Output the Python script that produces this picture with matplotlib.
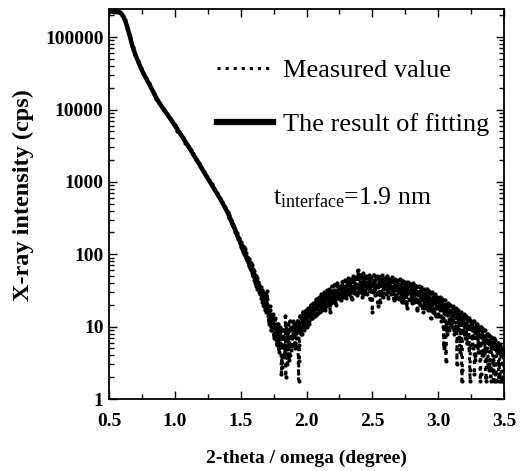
import numpy as np
import matplotlib
matplotlib.use("Agg")
import matplotlib.pyplot as plt
from matplotlib.ticker import MultipleLocator, LogLocator, NullFormatter, FixedLocator, FixedFormatter
from matplotlib.lines import Line2D

plt.rcParams['font.family'] = ['Liberation Serif', 'DejaVu Serif']
plt.rcParams['mathtext.fontset'] = 'custom'
plt.rcParams['mathtext.rm'] = 'Liberation Serif'
plt.rcParams['mathtext.it'] = 'Liberation Serif:italic'

# ---------------- data ----------------
# measured, smooth part (0.50-1.40, step 0.02)
meas_x1 = np.round(np.arange(0.50, 1.401, 0.02), 4)
meas_y1 = [230000, 228000, 226000, 225000, 222000, 205000, 174000, 135000, 100000, 73000,
           57500, 46800, 38000, 32400, 27500, 23400, 20000, 16600, 14100, 12300,
           11000, 9800, 8700, 7760, 6840, 6030, 5100, 4600, 4000, 3500,
           3100, 2750, 2400, 2100, 1830, 1600, 1390, 1220, 1060, 930,
           810, 700, 600, 520, 450, 385]
# measured, noisy part on the 0.01 grid (1.41-3.50)
meas_x2 = np.round(np.arange(1.41, 3.501, 0.01), 4)
meas_y2 = [350, 305, 288, 250, 238, 205, 196, 165, 160, 136,
           135, 108, 118, 90, 92, 70, 78, 60, 62, 48,
           52, 36, 42, 30, 34, 24, 30, 19, 26, 31,
           14, 17, 9, 12.5, 8, 11, 6.5, 9.5, 4.5, 8.5,
           2.2, 9, 5, 14, 4, 8.5, 3.5, 10, 5.5, 12,
           6, 11, 9, 1.8, 14, 8, 13, 9.5, 16, 11,
           16, 11, 17, 13, 19, 14, 21, 15, 23, 17,
           24, 18, 26, 19, 28, 20, 30, 16, 29, 23,
           32, 24, 36, 25, 33, 27, 38, 26, 34, 28,
           40, 29, 37, 26, 42, 31, 45, 30, 60, 33,
           48, 32, 44, 28, 50, 34, 41, 45, 31, 16,
           44, 35, 48, 30, 42, 22, 46, 33, 40, 29,
           45, 31, 40, 28, 43, 30, 38, 25, 41, 30,
           38, 26, 40, 22, 35, 29, 37, 24, 34, 26,
           36, 22, 31, 17, 30, 24, 33, 20, 28, 22,
           29, 18, 27, 20, 25, 16, 24, 18, 22, 15,
           23, 14, 21, 10, 17, 3.4, 18, 12, 17, 11,
           16, 9, 15, 10, 14, 7, 13, 1.8, 12, 8.5,
           13, 6, 12, 2.5, 11, 7, 10, 4, 9.5, 6,
           9, 1.8, 8.5, 4.5, 7, 2, 7.5, 3, 6.5, 1.8,
           6, 2.5, 5.5, 1.8, 5, 2.2, 4.5, 1.8, 4, 2.5]
# measured, noisy part on the half-steps (1.405-3.495)
meas_x3 = np.round(np.arange(1.405, 3.4951, 0.01), 4)
meas_y3 = [370, 320, 300, 262, 250, 215, 205, 176, 170, 145,
           125, 128, 100, 108, 84, 88, 68, 75, 55, 60,
           44, 50, 33, 40, 28, 35, 22, 28, 17, 22,
           19, 12, 15, 10, 13, 7.5, 10.5, 5.5, 9, 6,
           5.5, 2.8, 7.5, 4.2, 9.5, 3, 6, 12, 4.8, 8,
           10, 5, 12, 7, 3.3, 13, 9, 15, 10, 14,
           15, 12, 18, 13, 17, 20, 15, 22, 17, 21,
           22, 17, 25, 21, 26, 19, 27, 22, 31, 24,
           28, 22, 31, 27, 35, 24, 30, 33, 27, 36,
           33, 38, 28, 35, 30, 44, 34, 39, 29, 46,
           36, 52, 34, 40, 30, 47, 36, 42, 33, 39,
           40, 32, 46, 38, 35, 44, 27, 38, 45, 34,
           38, 33, 46, 35, 30, 41, 36, 27, 39, 34,
           35, 30, 42, 28, 37, 21, 33, 30, 38, 27,
           31, 27, 34, 24, 29, 21, 31, 23, 27, 19,
           26, 22, 28, 17, 24, 21, 27, 15, 23, 19,
           20, 17, 25, 13, 19, 15, 8, 16, 20, 13,
           15, 12, 17, 10, 14, 11, 4.5, 12, 9, 13,
           10, 8, 13, 5, 9.5, 11, 7.5, 2.2, 10, 7,
           8, 5.5, 10, 4, 7.5, 5, 3.5, 8, 2.5, 6.5,
           5, 3.5, 7, 2.2, 4.5, 6, 3, 5, 1.8, 4.5]
# measured, noisy part on the quarter-steps (1.5025-3.4925)
meas_x4 = np.round(np.arange(1.5025, 3.4926, 0.01), 4)
meas_y4 = [150, 118, 125, 97, 103, 78, 86, 64, 70, 50,
           58, 40, 47, 33, 38, 25, 32, 20, 26, 16,
           24, 11, 19, 9, 15, 7, 13, 6, 11, 5,
           10, 3.8, 9, 5, 2, 7.5, 11, 4, 9, 5.5,
           11, 6, 7, 12, 5.5, 14, 8, 16, 9, 17,
           10, 18, 12, 20, 13, 21, 14, 24, 15, 26,
           16, 28, 18, 30, 17, 32, 20, 33, 21, 36,
           22, 38, 20, 40, 25, 37, 23, 42, 27, 44,
           25, 47, 28, 45, 24, 50, 29, 48, 27, 53,
           30, 50, 26, 55, 31, 49, 28, 52, 24, 48,
           30, 52, 27, 50, 19, 49, 29, 51, 26, 47,
           28, 50, 25, 46, 29, 48, 23, 45, 27, 44,
           24, 46, 22, 43, 26, 41, 18, 42, 23, 39,
           21, 40, 24, 37, 18, 36, 20, 35, 16, 33,
           18, 33, 17, 31, 13, 30, 16, 28, 14, 26,
           14, 26, 12, 24, 5, 23, 11, 21, 9, 20,
           10, 19, 8, 18, 3, 17, 9, 16, 2.5, 15,
           7, 14, 6, 13, 1.8, 12, 5, 12, 3.5, 11,
           4.5, 10, 2.2, 9.5, 4, 9, 1.8, 8, 3, 7.5,
           2.5, 7, 1.8, 6.5, 3, 6, 1.8, 5.5, 2, 5]

meas_x = np.concatenate([meas_x1, meas_x2, meas_x3, meas_x4])
meas_y = np.concatenate([meas_y1, meas_y2, meas_y3, meas_y4])
order = np.argsort(meas_x, kind='stable')
meas_x = meas_x[order]
meas_y = meas_y[order]

# fitting result
fit_x = [0.50, 0.55, 0.58, 0.60, 0.61, 0.62, 0.63, 0.64, 0.65, 0.66, 0.67, 0.68, 0.70, 0.72,
         0.74, 0.76, 0.78, 0.80, 0.83, 0.86, 0.90, 0.95, 1.00, 1.05, 1.10, 1.20, 1.30, 1.35,
         1.40, 1.45, 1.50, 1.55, 1.60, 1.65, 1.70, 1.75, 1.80, 1.85, 1.90, 1.95, 2.00, 2.05,
         2.10, 2.15, 2.20, 2.30, 2.40, 2.50, 2.60, 2.70, 2.80, 2.90, 3.00, 3.10, 3.20, 3.30,
         3.40, 3.50]
fit_y = [226000, 226000, 222000, 205000, 191000, 174000, 155000, 135000, 117000, 100000,
         85000, 73000, 57500, 46800, 38000, 32000, 27300, 23400, 18500, 14400, 11000, 8200,
         6030, 4400, 3160, 1585, 794, 560, 380, 234, 141, 86, 52.5, 32, 18.2, 10.5, 7.3, 6.6,
         7.4, 9.6, 12.8, 16.2, 19.6, 23, 26, 31, 35.5, 37, 36.5, 34, 30.2, 25.1, 20, 15.1,
         11, 7.9, 5.6, 3.8]

x_ticks = [0.5, 1.0, 1.5, 2.0, 2.5, 3.0, 3.5]
x_ticklabels = ['0.5', '1.0', '1.5', '2.0', '2.5', '3.0', '3.5']
y_ticks = [1, 10, 100, 1000, 10000, 100000]
y_ticklabels = ['1', '10', '100', '1000', '10000', '100000']

# ---------------- figure ----------------
W, H = 527, 471
fig = plt.figure(figsize=(W/100, H/100), dpi=100)
ax = fig.add_axes([109/W, 1 - 399/H, (504-109)/W, (399-9)/H])

ax.plot(fit_x, fit_y, color='black', lw=3.2, solid_capstyle='butt', zorder=2)
ax.plot(meas_x, meas_y, color='black', lw=2.2, ls=':', marker='o', ms=3.0,
        markeredgewidth=0, zorder=3)

ax.set_yscale('log')
ax.set_xlim(0.5, 3.5)
ax.set_ylim(1, 2.45e5)

ax.xaxis.set_major_locator(FixedLocator(x_ticks))
ax.xaxis.set_major_formatter(FixedFormatter(x_ticklabels))
ax.xaxis.set_minor_locator(MultipleLocator(0.25))
ax.yaxis.set_major_locator(FixedLocator(y_ticks))
ax.yaxis.set_major_formatter(FixedFormatter(y_ticklabels))
ax.yaxis.set_minor_locator(LogLocator(base=10, subs=np.arange(2, 10)))
ax.yaxis.set_minor_formatter(NullFormatter())

ax.tick_params(which='both', direction='in', top=True, right=True, width=1.0)
ax.tick_params(which='major', length=6, labelsize=14)
ax.tick_params(axis='x', which='major', pad=10)
ax.tick_params(axis='y', which='major', pad=4)
ax.tick_params(which='minor', length=3.5)
for lab in ax.get_xticklabels() + ax.get_yticklabels():
    lab.set_fontweight('bold')
for s in ax.spines.values():
    s.set_linewidth(1.3)

ax.set_xlabel('2-theta / omega (degree)', fontsize=14, fontweight='bold', labelpad=14)
ax.set_ylabel('X-ray intensity (cps)', fontsize=17.5, fontweight='bold')
ax.yaxis.set_label_coords(-0.19, 0.523)

# legend without frame
h1 = Line2D([], [], color='black', lw=2.2, ls=':')
h2 = Line2D([], [], color='black', lw=4.5)
ax.legend([h1, h2], ['Measured value', 'The result of fitting'], frameon=False,
          fontsize=19, loc='upper left', bbox_to_anchor=(0.2466, 0.899),
          handlelength=2.12, handletextpad=0.38, labelspacing=1.15, borderaxespad=0)

ax.text(0.415, 0.515, r't$_{\mathrm{interface}}$=1.9 nm', transform=ax.transAxes,
        fontsize=18.5, ha='left', va='center')

fig.savefig('out.png', dpi=100)
